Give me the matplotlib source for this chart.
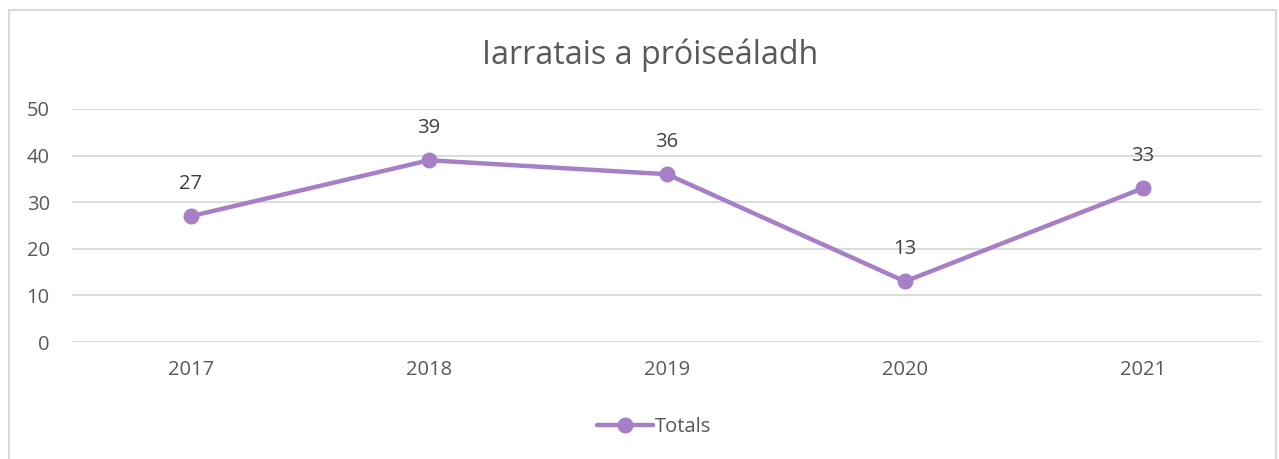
import matplotlib
matplotlib.use("Agg")
import matplotlib.pyplot as plt
from matplotlib.patches import Rectangle
from matplotlib.lines import Line2D

years = ["2017", "2018", "2019", "2020", "2021"]
totals = [27, 39, 36, 13, 33]
yticks = [0, 10, 20, 30, 40, 50]
title = "Iarratais a próiseáladh"
series_name = "Totals"

W, H = 1279, 459
plt.rcParams['font.family'] = ['Open Sans', 'DejaVu Sans']
fig = plt.figure(figsize=(W/100, H/100), dpi=100)
fig.patch.set_facecolor("white")

# outer chart border
fig.patches.append(Rectangle((8.5/W, -0.1), (1276-8.5)/W, 1.1 - 10.5/H, transform=fig.transFigure,
                             fill=False, edgecolor="#d9d9d9", linewidth=1.5))

ax = fig.add_axes([72/W, (H-342)/H, (1262-72)/W, (342-109)/H])
color = "#a77fc6"
txt = "#595959"
fs = 14.5
x = list(range(len(years)))
ax.plot(x, totals, color=color, linewidth=3.2, marker="o", markersize=10.5, solid_capstyle="round", zorder=3)
for xi, v in zip(x, totals):
    ax.annotate(str(v), (xi, v), xytext=(0, 23), textcoords="offset points",
                ha="center", va="center", fontsize=fs, color="#404040")

ax.set_xlim(-0.5, len(years) - 0.5)
ax.set_ylim(0, 50)
ax.set_yticks(yticks)
ax.set_xticks(x)
ax.set_xticklabels(years)
ax.grid(axis="y", color="#d9d9d9", linewidth=1.3)
ax.set_axisbelow(True)
for s in ax.spines.values():
    s.set_visible(False)
ax.tick_params(axis="both", length=0, labelsize=fs, colors=txt)
ax.tick_params(axis="y", pad=16)
ax.tick_params(axis="x", pad=13)

fig.text(650/W, 1 - 55/H, title, ha="center", va="center", fontsize=23.2, color=txt)

handle = Line2D([], [], color=color, linewidth=3.2, marker="o", markersize=10.5, solid_capstyle="round")
fig.legend([handle], [series_name], loc="center", bbox_to_anchor=(654/W, 1 - 427/H), frameon=False,
           fontsize=fs, labelcolor=txt, handlelength=2.8, handletextpad=0.1)

fig.savefig("out.png", dpi=100, facecolor="white")
